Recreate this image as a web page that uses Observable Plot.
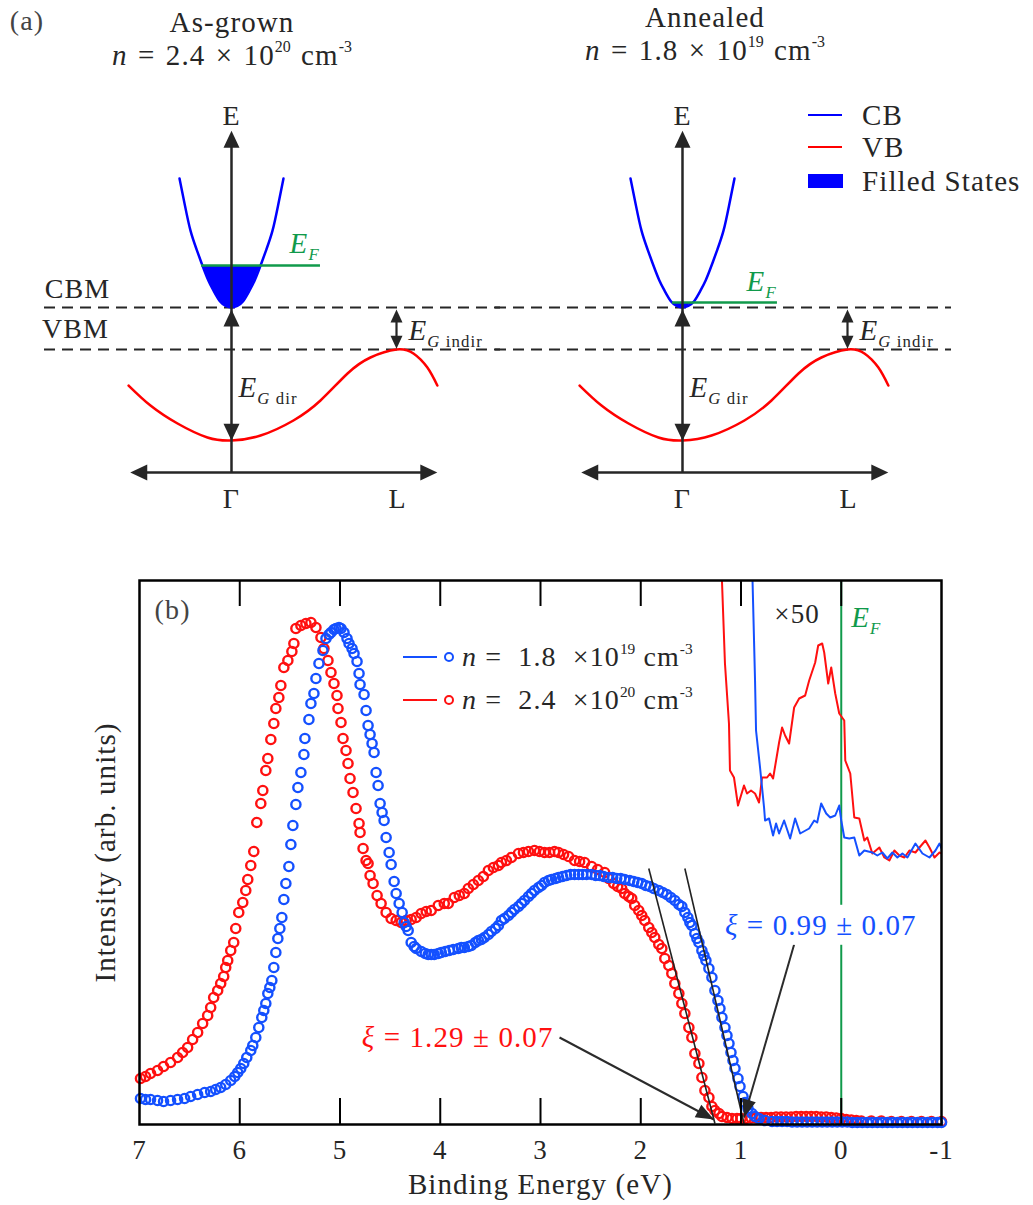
<!DOCTYPE html>
<html><head><meta charset="utf-8">
<script src="https://cdn.jsdelivr.net/npm/d3@7"></script>
<script src="https://cdn.jsdelivr.net/npm/@observablehq/plot@0.6"></script>
<style>
body{margin:0;background:#fff;}
#page{position:relative;width:1033px;height:1205px;overflow:hidden;background:#fff;color:#262626;}
.abs{position:absolute;white-space:nowrap;line-height:1;}
.c{transform:translate(-50%,-50%);}
.l{transform:translate(0,-50%);}
sup{font-size:0.55em;position:relative;top:-0.8em;vertical-align:baseline;letter-spacing:0;}
.sw{position:absolute;}
</style></head><body><div id="page"></div><script>
// ---------------- data ----------------
// (a) schematic bands: k (Γ = 0, L = 1), E (VBM = 0, CBM = 1)
const sampleNames = ["As-grown", "Annealed"];
const densityMantissa = ["2.4", "1.8"];
const densityExponent = ["20", "19"];
const cbBand = [[-0.313,4.07],[-0.28,3.42],[-0.247,2.83],[-0.21,2.38],[-0.175,2.0],[-0.14,1.65],[-0.108,1.40],[-0.07,1.15],[-0.035,1.04],[0,1.0],[0.035,1.04],[0.07,1.15],[0.108,1.40],[0.14,1.65],[0.175,2.0],[0.21,2.38],[0.247,2.83],[0.28,3.42],[0.313,4.07]];
const vbBand = [[-0.62,-0.857],[-0.488,-1.333],[-0.325,-1.762],[-0.145,-2.095],[0,-2.167],[0.175,-2.048],[0.373,-1.69],[0.536,-1.214],[0.699,-0.571],[0.837,-0.19],[0.994,0],[1.096,-0.095],[1.18,-0.43],[1.24,-0.857]];
const fermiLevel = [2.0, 1.12];
const fermiSpan = [[-0.18, 0.536], [-0.06, 0.572]];
const filledStates = [
  [[-0.175,2.0],[-0.14,1.65],[-0.108,1.40],[-0.07,1.15],[-0.035,1.04],[0,1.0],[0.035,1.04],[0.07,1.15],[0.108,1.40],[0.14,1.65],[0.175,2.0]],
  [[-0.06,1.12],[-0.035,1.04],[0,1.0],[0.035,1.04],[0.06,1.12]]
];
const axisHeads = [[0,5.21,0],[-0.61,-2.93,270],[1.24,-2.93,90],[0,0.95,0],[0,-2.17,180]];
const indirHeads = [[0.994,0.95,0],[0.994,0.02,180]];

// (b) spectra: [binding energy (eV), intensity (normalised)]
const xTicks = [7,6,5,4,3,2,1,0,-1];
const blueSeries = [[6.99,.048],[6.94,.046],[6.89,.046],[6.82,.044],[6.76,.042],[6.69,.044],[6.62,.046],[6.55,.048],[6.49,.052],[6.42,.056],[6.35,.060],[6.29,.062],[6.24,.066],[6.19,.070],[6.14,.076],[6.09,.084],[6.05,.092],[6.02,.100],[5.99,.108],[5.96,.118],[5.93,.130],[5.89,.144],[5.87,.154],[5.84,.170],[5.81,.190],[5.78,.210],[5.76,.224],[5.74,.238],[5.72,.258],[5.70,.270],[5.68,.284],[5.66,.310],[5.64,.340],[5.62,.368],[5.60,.388],[5.58,.410],[5.56,.446],[5.54,.478],[5.51,.512],[5.49,.556],[5.47,.594],[5.44,.636],[5.42,.670],[5.39,.700],[5.36,.736],[5.35,.768],[5.31,.806],[5.29,.838],[5.26,.858],[5.24,.888],[5.21,.918],[5.17,.944],[5.14,.968],[5.11,.976],[5.09,.980],[5.06,.986],[5.04,.988],[5.01,.990],[4.99,.988],[4.96,.980],[4.93,.968],[4.91,.958],[4.88,.948],[4.86,.938],[4.83,.922],[4.81,.898],[4.80,.876],[4.76,.856],[4.74,.824],[4.72,.794],[4.70,.776],[4.68,.758],[4.66,.740],[4.64,.700],[4.62,.674],[4.60,.638],[4.58,.620],[4.56,.604],[4.54,.570],[4.51,.540],[4.49,.516],[4.46,.482],[4.44,.458],[4.41,.438],[4.38,.420],[4.36,.400],[4.34,.392],[4.32,.384],[4.29,.360],[4.26,.352],[4.24,.348],[4.19,.342],[4.15,.338],[4.12,.336],[4.09,.336],[4.06,.336],[4.02,.338],[3.99,.340],[3.95,.342],[3.91,.344],[3.87,.346],[3.82,.348],[3.79,.350],[3.76,.350],[3.72,.352],[3.69,.354],[3.65,.360],[3.62,.364],[3.59,.366],[3.56,.370],[3.52,.376],[3.49,.382],[3.45,.388],[3.42,.394],[3.39,.404],[3.36,.408],[3.32,.414],[3.29,.420],[3.26,.426],[3.22,.432],[3.19,.438],[3.16,.444],[3.12,.452],[3.09,.458],[3.06,.464],[3.02,.470],[2.99,.474],[2.96,.480],[2.92,.484],[2.89,.486],[2.85,.488],[2.82,.490],[2.78,.492],[2.74,.494],[2.70,.496],[2.66,.496],[2.62,.496],[2.58,.496],[2.54,.496],[2.49,.496],[2.45,.494],[2.41,.494],[2.37,.492],[2.32,.490],[2.28,.490],[2.24,.488],[2.20,.488],[2.16,.486],[2.11,.484],[2.07,.482],[2.03,.480],[1.99,.478],[1.95,.474],[1.91,.472],[1.87,.468],[1.82,.464],[1.78,.460],[1.74,.456],[1.70,.450],[1.66,.444],[1.62,.436],[1.59,.432],[1.56,.420],[1.53,.410],[1.51,.400],[1.49,.394],[1.46,.378],[1.44,.368],[1.42,.360],[1.39,.344],[1.37,.334],[1.35,.324],[1.32,.308],[1.29,.290],[1.26,.264],[1.23,.244],[1.21,.228],[1.19,.210],[1.16,.190],[1.14,.174],[1.12,.158],[1.10,.140],[1.08,.124],[1.06,.108],[1.03,.088],[1.01,.072],[0.98,.052],[0.96,.040],[0.93,.028],[0.89,.018],[0.86,.012],[0.82,.008],[0.76,.004],[0.69,.002],[0.64,.002],[0.59,.002],[0.54,.002],[0.49,.001],[0.44,.001],[0.39,.001],[0.34,.001],[0.29,.001],[0.24,.001],[0.19,.001],[0.14,.001],[0.09,.001],[0.04,.001],[-0.01,.001],[-0.06,.001],[-0.11,0],[-0.16,0],[-0.21,0],[-0.26,0],[-0.31,0],[-0.36,0],[-0.41,0],[-0.46,0],[-0.51,0],[-0.56,0],[-0.61,0],[-0.66,0],[-0.71,0],[-0.76,0],[-0.81,0],[-0.86,0],[-0.91,0],[-0.96,0],[-1.0,0]];
const redSeries = [[6.99,.088],[6.94,.092],[6.89,.098],[6.82,.104],[6.76,.112],[6.69,.120],[6.62,.130],[6.57,.140],[6.52,.150],[6.47,.166],[6.42,.180],[6.37,.198],[6.32,.214],[6.29,.230],[6.26,.250],[6.22,.264],[6.19,.278],[6.16,.292],[6.14,.310],[6.12,.324],[6.09,.344],[6.06,.360],[6.04,.388],[6.01,.420],[5.97,.440],[5.94,.464],[5.92,.486],[5.89,.514],[5.86,.542],[5.83,.600],[5.79,.638],[5.77,.664],[5.74,.704],[5.72,.728],[5.69,.766],[5.66,.798],[5.64,.828],[5.61,.850],[5.59,.874],[5.56,.910],[5.52,.924],[5.48,.942],[5.46,.958],[5.44,.988],[5.39,.994],[5.34,.998],[5.29,1.000],[5.24,.990],[5.19,.970],[5.16,.948],[5.12,.924],[5.09,.900],[5.06,.878],[5.03,.854],[5.02,.828],[4.99,.800],[4.97,.768],[4.94,.744],[4.92,.718],[4.90,.688],[4.87,.660],[4.84,.628],[4.81,.598],[4.80,.580],[4.77,.548],[4.74,.524],[4.72,.518],[4.70,.494],[4.67,.478],[4.63,.454],[4.59,.438],[4.54,.420],[4.49,.408],[4.44,.404],[4.39,.400],[4.34,.404],[4.29,.406],[4.24,.410],[4.19,.418],[4.14,.422],[4.09,.424],[4.02,.434],[3.96,.438],[3.92,.438],[3.86,.450],[3.81,.454],[3.76,.458],[3.72,.468],[3.67,.476],[3.62,.484],[3.57,.492],[3.52,.504],[3.47,.510],[3.42,.514],[3.39,.520],[3.34,.524],[3.29,.530],[3.22,.538],[3.17,.540],[3.12,.542],[3.06,.544],[3.01,.542],[2.96,.540],[2.91,.540],[2.86,.542],[2.82,.540],[2.77,.536],[2.72,.532],[2.66,.524],[2.61,.522],[2.56,.520],[2.49,.512],[2.43,.506],[2.36,.500],[2.32,.488],[2.27,.478],[2.23,.472],[2.19,.468],[2.16,.458],[2.12,.452],[2.09,.448],[2.06,.434],[2.02,.424],[1.99,.414],[1.96,.404],[1.92,.390],[1.89,.380],[1.86,.370],[1.82,.356],[1.79,.348],[1.76,.328],[1.72,.314],[1.69,.298],[1.66,.278],[1.62,.258],[1.59,.238],[1.56,.218],[1.52,.190],[1.49,.170],[1.46,.138],[1.42,.118],[1.39,.090],[1.36,.064],[1.32,.050],[1.29,.032],[1.26,.024],[1.22,.018],[1.19,.012],[1.14,.010],[1.09,.008],[1.04,.008],[1.0,.008],[0.95,.008],[0.90,.009],[0.85,.009],[0.80,.010],[0.75,.010],[0.70,.010],[0.65,.011],[0.60,.011],[0.55,.011],[0.50,.011],[0.45,.012],[0.40,.012],[0.35,.012],[0.30,.012],[0.25,.012],[0.20,.011],[0.15,.011],[0.10,.010],[0.05,.009],[0.0,.008],[-0.05,.006],[-0.10,.005],[-0.15,.004],[-0.20,.003],[-0.30,.003],[-0.40,.003],[-0.50,.002],[-0.60,.002],[-0.70,.002],[-0.80,.002],[-0.90,.002],[-1.0,.002]];
// ×50 magnified near-E_F traces
const redZoom = [[1.20,1.124],[1.19,1.084],[1.16,.918],[1.12,.798],[1.11,.704],[1.07,.690],[1.03,.634],[0.97,.674],[0.94,.658],[0.90,.664],[0.86,.658],[0.82,.640],[0.79,.690],[0.74,.690],[0.71,.698],[0.68,.688],[0.62,.760],[0.59,.790],[0.56,.774],[0.52,.758],[0.47,.830],[0.42,.848],[0.36,.854],[0.32,.884],[0.26,.920],[0.23,.954],[0.19,.958],[0.17,.940],[0.13,.878],[0.10,.910],[0.06,.858],[0.02,.818],[-0.03,.804],[-0.04,.724],[-0.09,.698],[-0.13,.610],[-0.18,.608],[-0.23,.564],[-0.26,.570],[-0.31,.538],[-0.38,.550],[-0.43,.530],[-0.48,.524],[-0.53,.544],[-0.58,.534],[-0.63,.530],[-0.68,.544],[-0.74,.540],[-0.78,.550],[-0.84,.564],[-0.88,.550],[-0.93,.530],[-0.98,.540],[-1.0,.538]];
const blueZoom = [[0.89,1.124],[0.87,.964],[0.86,.884],[0.85,.784],[0.81,.710],[0.77,.630],[0.76,.604],[0.72,.608],[0.68,.574],[0.65,.598],[0.62,.578],[0.57,.604],[0.51,.568],[0.46,.608],[0.41,.578],[0.32,.588],[0.27,.604],[0.24,.600],[0.20,.638],[0.15,.618],[0.11,.610],[0.06,.614],[0.02,.634],[0.0,.604],[-0.03,.570],[-0.08,.568],[-0.13,.570],[-0.18,.534],[-0.23,.544],[-0.31,.540],[-0.36,.534],[-0.41,.540],[-0.46,.528],[-0.51,.540],[-0.56,.530],[-0.61,.538],[-0.66,.530],[-0.74,.558],[-0.81,.538],[-0.88,.530],[-0.94,.544],[-0.98,.558],[-1.0,.548]];
// leading-edge fits and annotation arrows: [x1, y1, x2, y2]
const edgeFits = [[1.92,.508,1.26,-.002],[1.56,.508,0.97,-.002]];
const pointers = [[2.81,.17,1.27,.006],[0.47,.356,0.97,.010]];
const xiValues = ["1.29", "0.99"];

// ---------------- font choice ----------------
function hasFont(name) {
  const c = document.createElement("canvas").getContext("2d");
  const s = "Binding Energy ξΓ 0123456789";
  c.font = `40px monospace`; const a = c.measureText(s).width;
  c.font = `40px "${name}", monospace`; const b = c.measureText(s).width;
  c.font = `40px sans-serif`; const a2 = c.measureText(s).width;
  c.font = `40px "${name}", sans-serif`; const b2 = c.measureText(s).width;
  return a !== b || a2 !== b2;
}
const useLib = hasFont("Liberation Serif");
const FAMILY = useLib ? "Liberation Serif" : (hasFont("DejaVu Serif") ? "DejaVu Serif" : "Liberation Serif");
const FONT = `"${FAMILY}", serif`;
const FS = FAMILY === "Liberation Serif" ? 1 : 0.885;
const LS = FAMILY === "Liberation Serif" ? "1.1px" : "0px";
const fz = s => Math.round(s * FS * 10) / 10;
document.getElementById("page").style.fontFamily = FONT;
document.getElementById("page").style.letterSpacing = LS;

// ---------------- styles ----------------
const INK = "#262626";
const GREEN = "#109a4b";
const BLUE = "#1450ff";
const RED = "#ff1010";
const NS = "http://www.w3.org/2000/svg";
const page = document.getElementById("page");

const RICH = {
  "@EF": [["E","it"],["F","it sub"]],
  "@EGdir": [["E","it"],["G","it sub"],[" dir","sub"]],
  "@EGindir": [["E","it"],["G","it sub"],[" indir","sub"]],
  "@xiR": [["ξ","it"],[` = ${xiValues[0]} ± 0.07`]],
  "@xiB": [["ξ","it"],[` = ${xiValues[1]} ± 0.07`]]
};
function richify(root) {
  root.querySelectorAll("text").forEach(t => {
    const parts = RICH[t.textContent];
    if (!parts) return;
    const fs = parseFloat(getComputedStyle(t).fontSize) || 27;
    t.setAttribute("data-key", t.textContent);
    while (t.firstChild) t.removeChild(t.firstChild);
    let cur = 0;
    for (const [s, f = ""] of parts) {
      const ts = document.createElementNS(NS, "tspan");
      ts.textContent = s;
      const sub = f.includes("sub");
      const target = sub ? 0.25 * fs : 0;
      if (target !== cur) { ts.setAttribute("dy", target - cur); cur = target; }
      if (/\bit\b/.test(f)) ts.setAttribute("font-style", "italic");
      if (sub) ts.setAttribute("font-size", (0.58 * fs).toFixed(1));
      t.appendChild(ts);
    }
  });
}

const triHead = {draw(ctx, l, r) { ctx.moveTo(0, -l); ctx.lineTo(r, 0); ctx.lineTo(-r, 0); ctx.closePath(); }};
function heads(data, length, r) {
  try {
    return Plot.vector(data, {x: d => d[0], y: d => d[1], rotate: d => d[2], length, r, anchor: "end", shape: triHead, fill: INK, stroke: "none"});
  } catch (e) {
    return Plot.dot(data, {x: d => d[0], y: d => d[1], rotate: d => d[2], symbol: "triangle", r: r * 0.9, fill: INK, stroke: "none"});
  }
}

// ---------------- (a) band diagrams ----------------
const kD = [-1.1265, 1.6205], eD = [-4.071, 8.31];
function bandPanel(p) {
  const EF = fermiLevel[p];
  const marks = [
    Plot.ruleY([0, 1], {stroke: INK, strokeWidth: 2, strokeDasharray: "11,7"}),
    Plot.areaY(filledStates[p], {x: d => d[0], y1: d => d[1], y2: EF, fill: "#0000ff", curve: "natural"}),
    Plot.line(cbBand, {x: d => d[0], y: d => d[1], stroke: "#0000ff", strokeWidth: 2.5, curve: "natural"}),
    Plot.line(vbBand, {x: d => d[0], y: d => d[1], stroke: "#ff0000", strokeWidth: 2.5, curve: "natural"}),
    Plot.ruleY([EF], {x1: fermiSpan[p][0], x2: fermiSpan[p][1], stroke: GREEN, strokeWidth: 2.5}),
    Plot.ruleX([0], {y1: -2.93, y2: 4.9, stroke: INK, strokeWidth: 2.5}),
    Plot.ruleY([-2.93], {x1: -0.56, x2: 1.19, stroke: INK, strokeWidth: 2.5}),
    Plot.ruleX([0.994], {y1: 0.12, y2: 0.85, stroke: INK, strokeWidth: 2.2}),
    heads(axisHeads, 17, 8),
    heads(indirHeads, 13, 6),
    Plot.text(["E"], {x: 0, y: 5.57, fontSize: fz(28)}),
    Plot.text(["Γ"], {x: 0, y: -3.55, fontSize: fz(28)}),
    Plot.text(["L"], {x: 1.0, y: -3.55, fontSize: fz(28)}),
    Plot.text(["@EF"], {x: p ? 0.386 : 0.35, y: p ? 1.62 : 2.52, textAnchor: "start", fill: GREEN, fontSize: fz(29)}),
    Plot.text(["@EGdir"], {x: 0.042, y: -0.9, textAnchor: "start", fontSize: fz(29)}),
    Plot.text(["@EGindir"], {x: 1.066, y: 0.45, textAnchor: "start", fontSize: fz(29)})
  ];
  if (p === 0) {
    marks.push(Plot.text(["CBM"], {x: -0.928, y: 1.45, fontSize: fz(28)}));
    marks.push(Plot.text(["VBM"], {x: -0.94, y: 0.48, fontSize: fz(28)}));
  }
  return Plot.plot({
    width: 456, height: 520, margin: 0,
    x: {domain: kD, axis: null}, y: {domain: eD, axis: null},
    style: {fontFamily: FONT, color: INK, overflow: "visible", background: "transparent", letterSpacing: LS},
    marks
  });
}
[44, 495].forEach((left, p) => {
  const svg = bandPanel(p);
  svg.style.position = "absolute"; svg.style.left = left + "px"; svg.style.top = "0px";
  page.appendChild(svg);
  richify(svg);
});

// ---------------- (b) spectra ----------------
const xPx = d3.scaleLinear([7, -1], [139, 941]);
const yPx = d3.scaleLinear([-0.004, 1.084], [1124, 580]);
const pointerHeads = pointers.map(([x1, y1, x2, y2]) => [x2, y2, Math.atan2(xPx(x2) - xPx(x1), -(yPx(y2) - yPx(y1))) * 180 / Math.PI]);
const innerTicks = xTicks.slice(1, -1);
const plotB = Plot.plot({
  width: 1033, height: 645, marginLeft: 139, marginRight: 92, marginTop: 20, marginBottom: 81,
  x: {domain: [7, -1], axis: null}, y: {domain: [-0.004, 1.084], axis: null},
  style: {fontFamily: FONT, color: INK, overflow: "visible", background: "transparent", letterSpacing: LS},
  marks: [
    Plot.ruleX([0], {stroke: GREEN, strokeWidth: 2}),
    Plot.line(redZoom, {x: d => d[0], y: d => d[1], stroke: RED, strokeWidth: 2, clip: true}),
    Plot.line(blueZoom, {x: d => d[0], y: d => d[1], stroke: BLUE, strokeWidth: 2, clip: true}),
    Plot.dot(redSeries, {x: d => d[0], y: d => d[1], r: 4.6, stroke: RED, strokeWidth: 2.4, fill: "none"}),
    Plot.dot(blueSeries, {x: d => d[0], y: d => d[1], r: 4.6, stroke: BLUE, strokeWidth: 2.4, fill: "none"}),
    Plot.link(edgeFits, {x1: d => d[0], y1: d => d[1], x2: d => d[2], y2: d => d[3], stroke: "#222", strokeWidth: 1.6}),
    Plot.link(pointers, {x1: d => d[0], y1: d => d[1], x2: d => d[2], y2: d => d[3], stroke: "#2b2b2b", strokeWidth: 2}),
    heads(pointerHeads, 18, 7),
    Plot.frame({stroke: "#000", strokeWidth: 2.5}),
    Plot.ruleX(innerTicks, {x: d => d, insetTop: 518, stroke: "#000", strokeWidth: 2}),
    Plot.ruleX(innerTicks, {x: d => d, insetBottom: 518, stroke: "#000", strokeWidth: 2}),
    Plot.text(xTicks, {x: d => d, text: d => String(d), frameAnchor: "bottom", dy: 34, fontSize: fz(27)}),
    Plot.text(["Binding Energy (eV)"], {frameAnchor: "bottom", dy: 69, fontSize: fz(29)}),
    Plot.text(["Intensity (arb. units)"], {frameAnchor: "left", textAnchor: "middle", rotate: -90, dx: -34, fontSize: fz(29)}),
    Plot.text(["(b)"], {x: 6.67, y: 1.024, fontSize: fz(28), fill: "#444"}),
    Plot.text(["×50"], {x: 0.44, y: 1.016, fontSize: fz(27)}),
    Plot.text(["@EF"], {x: -0.1, y: 1.01, textAnchor: "start", fill: GREEN, fontSize: fz(29)}),
    Plot.text(["@xiR"], {x: 2.87, y: 0.17, textAnchor: "end", fill: RED, fontSize: fz(29)}),
    Plot.text(["@xiB"], {x: 1.16, y: 0.394, textAnchor: "start", fill: BLUE, fontSize: fz(29)})
  ]
});
plotB.style.position = "absolute"; plotB.style.left = "0px"; plotB.style.top = "560px";
page.appendChild(plotB);
richify(plotB);
// white box behind the blue ξ label
const xiB = plotB.querySelector('text[data-key="@xiB"]');
if (xiB) {
  const bb = xiB.getBBox();
  const rect = document.createElementNS(NS, "rect");
  rect.setAttribute("x", bb.x - 6); rect.setAttribute("y", bb.y - 4);
  rect.setAttribute("width", bb.width + 12); rect.setAttribute("height", bb.height + 8);
  rect.setAttribute("fill", "#fff");
  const tr = xiB.getAttribute("transform");
  if (tr) rect.setAttribute("transform", tr);
  xiB.parentNode.insertBefore(rect, xiB);
}

// ---------------- HTML text (titles, legends) ----------------
function put(html, x, y, size, cls = "c", color = INK, extra = "") {
  const d = document.createElement("div");
  d.className = "abs " + cls;
  d.style.cssText += `left:${x}px;top:${y}px;font-size:${fz(size)}px;color:${color};${extra}`;
  d.innerHTML = html;
  page.appendChild(d);
}
function box(x, y, w, h, css) {
  const d = document.createElement("div");
  d.className = "sw";
  d.style.cssText = `left:${x}px;top:${y}px;width:${w}px;height:${h}px;${css}`;
  page.appendChild(d);
}
const dens = i => `<i>n</i>&nbsp;=&nbsp;${densityMantissa[i]}&nbsp;×&nbsp;10<sup>${densityExponent[i]}</sup>&nbsp;cm<sup>-3</sup>`;
put("(a)", 27, 21, 28, "c", "#444");
put(sampleNames[0], 232, 22, 29);
put(dens(0), 232, 55, 29, "c", INK, "word-spacing:2px;");
put(sampleNames[1], 705, 17, 29);
put(dens(1), 705, 50, 29, "c", INK, "word-spacing:2px;");
// legend (a)
box(808, 114, 34, 0, "border-top:2.5px solid #0000ff;");
put("CB", 862, 115, 29, "l");
box(808, 146, 34, 0, "border-top:2.5px solid #ff0000;");
put("VB", 862, 147, 29, "l");
box(808, 174, 35, 14, "background:#0000ff;");
put("Filled States", 862, 181, 29, "l");
// legend (b)
const legB = [[1, BLUE, 657], [0, RED, 700]];
legB.forEach(([i, col, y]) => {
  box(403, y - 1, 34, 0, `border-top:2px solid ${col};`);
  box(444, y - 5, 6, 6, `border:2.2px solid ${col};border-radius:50%;`);
  put(`<i>n</i>&nbsp;=&nbsp;&nbsp;${densityMantissa[i]}&nbsp;&nbsp;×10<sup>${densityExponent[i]}</sup>&nbsp;cm<sup>-3</sup>`, 462, y, 28, "l", INK, "");
});
</script></body></html>
